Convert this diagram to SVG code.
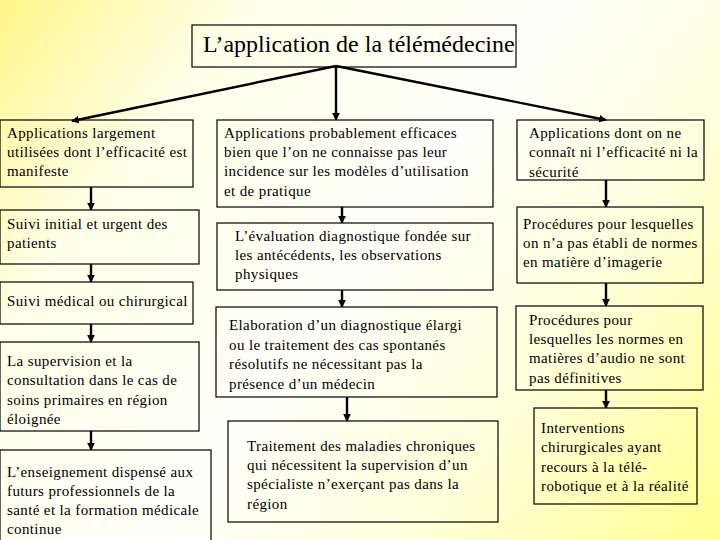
<svg xmlns="http://www.w3.org/2000/svg" width="720" height="540" viewBox="0 0 720 540">
<defs>
<linearGradient id="bg" gradientUnits="userSpaceOnUse" x1="0" y1="0" x2="720" y2="540">
<stop offset="0" stop-color="#FFF587"/>
<stop offset="0.22" stop-color="#FFFFE8"/>
<stop offset="0.5" stop-color="#FFFFFA"/>
<stop offset="0.72" stop-color="#FFFFDC"/>
<stop offset="1" stop-color="#FFFF90"/>
</linearGradient>
<marker id="ah" viewBox="0 0 10 10" refX="9" refY="5" markerWidth="3.2" markerHeight="3.2" orient="auto" markerUnits="strokeWidth">
<path d="M0,0 L10,5 L0,10 z" fill="#000"/>
</marker>
<style>
.box{fill:none;stroke:#000;stroke-width:1.2}
text{font-family:"Liberation Serif","Times New Roman","DejaVu Serif",serif;fill:#000}
.t{font-size:15px;letter-spacing:0.38px}
.title{font-size:24px}
.c{fill:none;stroke:#000;stroke-width:2.4;marker-end:url(#ah)}
</style>
</defs>
<rect width="720" height="540" fill="url(#bg)"/>

<g id="connectors">
<line class="c" x1="336" y1="66" x2="72" y2="121"/>
<line class="c" x1="336" y1="66" x2="336" y2="120"/>
<line class="c" x1="336" y1="66" x2="606" y2="120"/>
<line class="c" x1="91" y1="187" x2="91" y2="210"/>
<line class="c" x1="91" y1="264" x2="91" y2="282"/>
<line class="c" x1="91" y1="324" x2="91" y2="342"/>
<line class="c" x1="91" y1="431" x2="91" y2="450"/>
<line class="c" x1="342" y1="207" x2="342" y2="223"/>
<line class="c" x1="342" y1="290" x2="342" y2="307"/>
<line class="c" x1="347" y1="397" x2="347" y2="421"/>
<line class="c" x1="606" y1="180" x2="606" y2="207"/>
<line class="c" x1="606" y1="283" x2="606" y2="306"/>
<line class="c" x1="606" y1="390" x2="606" y2="408"/>
</g>

<g id="title">
<rect class="box" x="192" y="25" width="324" height="42"/>
<text class="title" x="203" y="52">L’application de la télémédecine</text>
</g>

<g id="L1">
<rect class="box" x="0" y="120" width="193" height="67"/>
<text class="t" x="7" y="138">Applications largement</text>
<text class="t" x="7" y="157">utilisées dont l’efficacité est</text>
<text class="t" x="7" y="176">manifeste</text>
</g>
<g id="L2">
<rect class="box" x="0" y="210" width="199" height="54"/>
<text class="t" x="7" y="229">Suivi initial et urgent des</text>
<text class="t" x="7" y="248">patients</text>
</g>
<g id="L3">
<rect class="box" x="0" y="282" width="193" height="42"/>
<text class="t" x="7" y="306">Suivi médical ou chirurgical</text>
</g>
<g id="L4">
<rect class="box" x="0" y="342" width="199" height="89"/>
<text class="t" x="7" y="366">La supervision et la</text>
<text class="t" x="7" y="385">consultation dans le cas de</text>
<text class="t" x="7" y="405">soins primaires en région</text>
<text class="t" x="7" y="424">éloignée</text>
</g>
<g id="L5">
<rect class="box" x="0" y="450" width="211" height="100"/>
<text class="t" x="7" y="477">L’enseignement dispensé aux</text>
<text class="t" x="7" y="496">futurs professionnels de la</text>
<text class="t" x="7" y="515">santé et la formation médicale</text>
<text class="t" x="7" y="534">continue</text>
</g>

<g id="M1">
<rect class="box" x="217" y="120" width="276" height="87"/>
<text class="t" x="224" y="138">Applications probablement efficaces</text>
<text class="t" x="224" y="157">bien que l’on ne connaisse pas leur</text>
<text class="t" x="224" y="176">incidence sur les modèles d’utilisation</text>
<text class="t" x="224" y="196">et de pratique</text>
</g>
<g id="M2">
<rect class="box" x="217" y="223" width="276" height="67"/>
<text class="t" x="235" y="241">L’évaluation diagnostique fondée sur</text>
<text class="t" x="235" y="260">les antécédents, les observations</text>
<text class="t" x="235" y="279">physiques</text>
</g>
<g id="M3">
<rect class="box" x="216" y="307" width="281" height="90"/>
<text class="t" x="229" y="330">Elaboration d’un diagnostique élargi</text>
<text class="t" x="229" y="350">ou le traitement des cas spontanés</text>
<text class="t" x="229" y="369">résolutifs ne nécessitant pas la</text>
<text class="t" x="229" y="389">présence d’un médecin</text>
</g>
<g id="M4">
<rect class="box" x="228" y="421" width="270" height="101"/>
<text class="t" x="247" y="451">Traitement des maladies chroniques</text>
<text class="t" x="247" y="470">qui nécessitent la supervision d’un</text>
<text class="t" x="247" y="489">spécialiste n’exerçant pas dans la</text>
<text class="t" x="247" y="509">région</text>
</g>

<g id="R1">
<rect class="box" x="517" y="120" width="187" height="60"/>
<text class="t" x="529" y="138">Applications dont on ne</text>
<text class="t" x="529" y="157">connaît ni l’efficacité ni la</text>
<text class="t" x="529" y="177">sécurité</text>
</g>
<g id="R2">
<rect class="box" x="517" y="207" width="186" height="76"/>
<text class="t" x="523" y="229">Procédures pour lesquelles</text>
<text class="t" x="523" y="248">on n’a pas établi de normes</text>
<text class="t" x="523" y="267">en matière d’imagerie</text>
</g>
<g id="R3">
<rect class="box" x="516" y="306" width="187" height="84"/>
<text class="t" x="529" y="325">Procédures pour</text>
<text class="t" x="529" y="344">lesquelles les normes en</text>
<text class="t" x="529" y="363">matières d’audio ne sont</text>
<text class="t" x="529" y="383">pas définitives</text>
</g>
<g id="R4">
<rect class="box" x="534" y="408" width="163" height="96"/>
<text class="t" x="541" y="433">Interventions</text>
<text class="t" x="541" y="452">chirurgicales ayant</text>
<text class="t" x="541" y="472">recours à la télé-</text>
<text class="t" x="541" y="491">robotique et à la réalité</text>
</g>
</svg>
